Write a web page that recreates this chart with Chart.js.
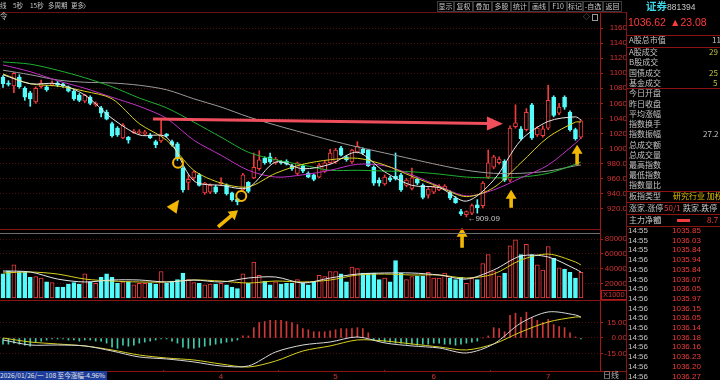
<!DOCTYPE html>
<html lang="zh">
<head>
<meta charset="utf-8">
<title>证券 881394 日线</title>
<script src="https://cdn.jsdelivr.net/npm/chart.js@4.4.1/dist/chart.umd.min.js"></script>
<style>
  body { margin: 0; width: 720px; height: 380px; background: #000; overflow: hidden; position: relative;
         font-family: "Noto Sans CJK SC", "Liberation Sans", sans-serif; color: #c4c4c4; }
  .t { position: absolute; white-space: nowrap; font-size: 8px; line-height: 10px; }
  .h { position: absolute; height: 1px; background: #8a1414; }
  .v { position: absolute; width: 1px; background: #8a1414; }
  .btn { position: absolute; top: 1px; height: 9px; border: 1px solid #3c3c3c; font-size: 7px; line-height: 9px;
         text-align: center; color: #c8c8c8; box-sizing: content-box; }
  canvas { position: absolute; left: 0; }
</style>
</head>
<body>
<canvas id="vol" width="627" height="70" style="top:230px"></canvas>
<canvas id="macd" width="627" height="79" style="top:301px"></canvas>
<canvas id="price" width="627" height="237" style="top:13px"></canvas>
<div id="deco"></div>
<script>
// ---- daily candles ----
const opens  = [1095,1087,1083,1095,1080,1074,1062,1082,1082,1084, 1087,1086,1082,1076,1071,1063,1068,1058,1054,1048,
                1033,1027,1014,1015,1021,1021,1019,1018,1009,1010, 1019,1009,1006,974,955,961,965,941,942,949,
                953,951,941,933,945,955,961,973,987,989, 981,982,983,977,967,977,967,965,962,970,
                981,982,1001,989,982,995,999,998,975,958, 953,961,963,965,951,947,959,951,938,942,
                945,946,942,934,916,912,914,925,924,962, 975,981,983,958,1029,1026,1025,1058,1018,1017,
                1027,1068,1047,1068,1048,1025,1015];
const highs  = [1097,1090,1101,1098,1082,1076,1082,1091,1084,1090, 1089,1087,1083,1078,1073,1072,1070,1062,1056,1051,
                1035,1029,1033,1016,1025,1025,1024,1020,1011,1038, 1020,1011,1008,976,965,970,967,955,953,951,
                961,953,942,934,967,956,994,997,989,994, 988,984,985,979,982,979,969,966,980,983,
                999,1000,1003,991,999,1009,1001,999,977,961, 965,963,994,967,960,974,961,953,948,951,
                952,952,944,936,919,917,926,932,956,998, 991,989,985,1030,1058,1029,1053,1060,1029,1030,
                1084,1070,1060,1070,1050,1027,1038];
const lows   = [1081,1083,1074,1080,1064,1056,1060,1080,1076,1083, 1082,1081,1075,1064,1062,1061,1058,1056,1042,1038,
                1015,1016,1013,1007,1020,1019,1018,1013,1001,1008, 1015,1003,984,942,945,958,950,939,940,940,
                951,938,930,925,943,941,960,971,979,980, 979,979,978,971,965,968,961,957,961,968,
                980,980,990,983,980,994,992,976,951,950, 951,956,958,943,949,945,952,933,934,940,
                944,945,932,927,911,909.09,912,914,921,960, 973,979,956,956,1027,1011,1023,1012,1016,1015,
                1025,1042,1045,1052,1023,1011,1013];
const closes = [1086,1085,1100,1082,1068,1066,1080,1087,1078,1087, 1084,1083,1076,1066,1064,1071,1060,1060,1047,1039,
                1017,1018,1031,1011,1023,1022,1022,1014,1005,1018, 1017,1005,986,945,959,969,951,954,951,942,
                955,940,932,929,965,943,975,985,981,982, 986,981,979,973,981,970,962,959,978,981,
                994,998,991,985,998,1003,994,977,954,954, 962,958,960,945,958,961,954,935,946,949,
                950,950,934,928,913,916,924,921,954,981, 989,986,958,1027,1034,1013,1048,1014,1027,1026,
                1064,1044,1055,1055,1025,1013,1036.62];
const volumes = [33000,37000,45000,36000,36000,28000,29000,27000,22000,21000, 15000,15000,19000,21000,19000,33000,22000,20000,28000,33000,
                 28000,20000,22000,22000,18000,20000,20000,20000,19000,36000, 20000,23000,25000,34000,25000,21000,20000,18000,19000,19000,
                 20000,18000,15000,13000,33000,20000,49000,31000,23000,18000, 22000,19000,20000,20000,25000,21000,18000,22000,31000,29000,
                 36000,36000,33000,22000,42000,40000,34000,34000,34000,25000, 27000,22000,51000,34000,25000,29000,30000,30000,35000,27000,
                 27000,34000,27000,25000,28000,20000,27000,25000,47000,59000, 36000,30000,34000,71000,79000,59000,73000,59000,45000,38000,
                 70000,54000,41000,39000,35000,27000,35000];
const macdHist = [-6,-6,-5,-6,-7,-8,-4,-3,-2,-1, -1,-1,-2,-2,-3,-2,-2,-3,-3,-5,
                  -9,-10,-7,-8,-7,-5,-4,-3,-2,-1, -1,-3,-5,-9,-10,-10,-9,-8,-7,-6,
                  -5,-4,-3,-2,2,2,10,15,16,17, 17,17,16,15,13,9,8,6,6,6,
                  7,8,9,9,9,10,9,5,-2,-3, -4,-4,-5,-5,-6,-6,-7,-6,-6,-5,
                  -5,-6,-6,-7,-6,-5,-4,-3,0,2, 10,9,6,22,24,20,25,20,17,15,
                  18,13,11,10,5,1,-1];

// indicator lines, sampled every 5 bars
const lineIdx = [0,5,10,15,20,25,30,35,40,45,50,55,60,65,70,75,80,85,90,95,100,105,106];
const ma5  = [1098,1086,1086,1071,1040,1018,1015,957,951,948,982,973,979,995,969,951,948,930,958,1011,1036,1042,1038];
const ma10 = [1099,1086,1083,1076,1066,1033,1011,971,954,949,967,979,985,987,978,963,949,936,948,981,1015,1035,1035];
const ma20 = [1111,1102,1090,1080,1068,1056,1040,1011,991,971,962,965,971,979,977,965,950,937,945,961,978,1007,1014];
const ma30 = [1115,1112,1104,1094,1082,1067,1054,1035,1015,995,985,978,971,971,970,969,966,962,961,962,967,979,982];
const ma60 = [1104,1098,1091,1088,1087,1084,1078,1066,1055,1042,1031,1021,1011,1002,994,986,978,971,967,967,970,977,978];
const volMa5  = [36700,35400,25800,21800,24500,24500,21800,24500,21800,27200,28600,20400,27200,32600,34000,34000,31300,25800,38100,57100,55800,39400,35400];
const volMa10 = [34000,35400,32600,25800,23100,21800,21800,24500,23100,20400,23100,21800,24500,31300,32600,31300,31300,27200,32600,51700,59800,49000,44900];
const dif = [-1.9,-6.8,-6.8,-7.7,-12.6,-18.4,-20.3,-23.2,-27.1,-27.1,-13.6,-6.8,-3.9,1,-4.8,-7.7,-9.7,-14.5,-5.8,14.5,25.2,22.3,20.3];
const dea = [0,-3.9,-5.8,-7.7,-11.6,-16.5,-19.4,-21.3,-25.2,-28.1,-22.3,-12.6,-7.7,-1.9,-2.9,-5.8,-8.7,-11.6,-5.8,5.8,15.5,20.3,20.3];

// axes
const priceTicks = [920,940,960,980,1000,1020,1040,1060,1080,1100,1120,1140,1160];
const volTicks = [20000,40000,60000,80000];
const macdTicks = [-15,0,15];
const monthIdx = [40,61,79,100];
const monthLabels = ['4','5','6','7'];

// tick-by-tick list on the right
const tickTimes  = ['14:55','14:55','14:55','14:56','14:56','14:56','14:56','14:56','14:56','14:56','14:56','14:56','14:56','14:56','14:56','14:56'];
const tickPrices = ['1035.85','1036.03','1035.84','1035.94','1035.84','1036.07','1036.05','1035.97','1036.15','1036.05','1036.14','1036.18','1036.16','1036.23','1036.20','1036.27'];

const RED = '#f03c3c', CYAN = '#54fcfc', YEL = '#f2b705';
const up = closes.map((c, i) => c >= opens[i]);

Chart.defaults.font.family = 'Liberation Sans';
Chart.defaults.font.size = 8;

function xAxis(show) {
  const axis = {
    type: 'linear', min: -0.55, max: 109.5, offset: false, display: show,
    afterBuildTicks: s => { s.ticks = monthIdx.map(v => ({ value: v })); },
    ticks: { color: '#d23232', autoSkip: false, maxRotation: 0, padding: 0,
             callback: v => monthLabels[monthIdx.indexOf(v)] },
    grid: { drawOnChartArea: false, tickLength: 2, color: '#a01818' },
    border: { display: false }
  };
  // only the bottom panel shows dates; hidden axes must take no room
  if (show) axis.afterFit = s => { s.height = 10; s.paddingLeft = 0; s.paddingRight = 0; };
  return axis;
}

function yAxis(min, max, values, fmt) {
  return {
    position: 'right', min: min, max: max,
    afterBuildTicks: s => { s.ticks = values.map(v => ({ value: v })); },
    afterFit: s => { s.width = 27; s.paddingTop = 0; s.paddingBottom = 0; },
    ticks: { color: '#d23232', padding: 1, crossAlign: 'far', autoSkip: false, callback: fmt },
    grid: { color: '#4c1010', tickLength: 3, tickColor: '#b01c1c' },
    border: { color: '#a01818', dash: [1, 2] }
  };
}

function line(idx, vals, color) {
  return { type: 'line', data: idx.map((x, k) => ({ x: x, y: vals[k] })), borderColor: color,
           borderWidth: 1, pointRadius: 0, tension: 0.3, order: 0 };
}

const common = { responsive: false, animation: false, events: [],
                 plugins: { legend: { display: false }, tooltip: { enabled: false } } };

// hand-drawn marks on the price panel, in (bar index, price) coordinates
const marks = {
  redArrow: { from: [27.5, 1039], to: [91.7, 1033] },
  circles: [[32.1, 981], [43.7, 937]],
  heads: [{ at: [32.3, 932], ang: -55 }],
  arrows: [{ at: [43.1, 918], ang: -40, len: 26 }, { at: [93.2, 945], ang: -90, len: 18 },
           { at: [105.3, 1005], ang: -90, len: 20 }, { at: [84.2, 894.5], ang: -90, len: 20 }],
  low: { at: [85, 909.09], text: '\u2190909.09' }
};

function poly(ctx, x, y, ang, pts) {
  const c = Math.cos(ang), s = Math.sin(ang);
  ctx.beginPath();
  pts.forEach((p, k) => {
    const px = x + p[0] * c - p[1] * s, py = y + p[0] * s + p[1] * c;
    if (k === 0) ctx.moveTo(px, py); else ctx.lineTo(px, py);
  });
  ctx.closePath();
  ctx.fill();
}

const marksPlugin = {
  id: 'marks',
  afterDatasetsDraw(chart) {
    const ctx = chart.ctx, sx = chart.scales.x, sy = chart.scales.y;
    const px = p => [sx.getPixelForValue(p[0]), sy.getPixelForValue(p[1])];
    ctx.save();

    // long red arrow
    const [x1, y1] = px(marks.redArrow.from), [x2, y2] = px(marks.redArrow.to);
    const a = Math.atan2(y2 - y1, x2 - x1);
    ctx.strokeStyle = ctx.fillStyle = '#ef4f5c';
    ctx.lineWidth = 3;
    ctx.beginPath();
    ctx.moveTo(x1, y1);
    ctx.lineTo(x2 - 14 * Math.cos(a), y2 - 14 * Math.sin(a));
    ctx.stroke();
    poly(ctx, x2, y2, a, [[0, 0], [-16, -7], [-16, 7]]);

    // yellow circles and arrows
    ctx.strokeStyle = ctx.fillStyle = YEL;
    ctx.lineWidth = 2;
    marks.circles.forEach(p => {
      const [cx, cy] = px(p);
      ctx.beginPath(); ctx.arc(cx, cy, 5, 0, Math.PI * 2); ctx.stroke();
    });
    marks.heads.forEach(h => {
      const [hx, hy] = px(h.at);
      poly(ctx, hx, hy, h.ang * Math.PI / 180, [[0, 0], [-13, -6], [-13, 6]]);
    });
    marks.arrows.forEach(r => {
      const [ax, ay] = px(r.at), L = r.len;
      poly(ctx, ax, ay, r.ang * Math.PI / 180,
           [[0, 0], [-9, -5.5], [-9, -1.8], [-L, -1.8], [-L, 1.8], [-9, 1.8], [-9, 5.5]]);
    });

    // low price label
    const [lx, ly] = px(marks.low.at);
    ctx.fillStyle = '#c8c8c8';
    ctx.font = '8px Liberation Sans';
    ctx.textBaseline = 'middle';
    ctx.fillText(marks.low.text, lx + 1, ly + 1.5);
    ctx.restore();
  }
};

const xs = opens.map((_, i) => i);

// price panel
new Chart(document.getElementById('price'), {
  type: 'bar',
  data: { datasets: [
    line(lineIdx, ma5, '#e6e6e6'),
    line(lineIdx, ma10, '#d8d020'),
    line(lineIdx, ma20, '#c030c8'),
    line(lineIdx, ma30, '#20b030'),
    line(lineIdx, ma60, '#9a9a9a'),
    { data: xs.map(i => ({ x: i, y: [opens[i], closes[i]] })), order: 1, grouped: false,
      barThickness: 4, minBarLength: 1, borderWidth: 1, borderSkipped: false,
      backgroundColor: up.map(u => u ? '#000' : CYAN), borderColor: up.map(u => u ? RED : CYAN) },
    { data: xs.map(i => ({ x: i, y: [lows[i], highs[i]] })), order: 2, grouped: false,
      barThickness: 1, backgroundColor: up.map(u => u ? RED : CYAN) }
  ] },
  options: Object.assign({}, common, {
    layout: { padding: { bottom: 21 } },
    scales: { x: xAxis(false), y: yAxis(893, 1180, priceTicks, v => v >= 1000 ? String(v) : v.toFixed(1)) }
  }),
  plugins: [marksPlugin]
});

// volume panel
new Chart(document.getElementById('vol'), {
  type: 'bar',
  data: { datasets: [
    line(lineIdx, volMa5, '#e6e6e6'),
    line(lineIdx, volMa10, '#d8d020'),
    { data: xs.map(i => ({ x: i, y: volumes[i] })), order: 1, grouped: false,
      barThickness: 4, borderWidth: 1, borderSkipped: false,
      backgroundColor: up.map(u => u ? '#000' : CYAN), borderColor: up.map(u => u ? RED : CYAN) }
  ] },
  options: Object.assign({}, common, {
    scales: { x: xAxis(false), y: yAxis(-2700, 92500, volTicks, v => String(v)) }
  })
});

// MACD panel
new Chart(document.getElementById('macd'), {
  type: 'bar',
  data: { datasets: [
    line(lineIdx, dif, '#d8d8d8'),
    line(lineIdx, dea, '#d8d020'),
    { data: xs.map(i => ({ x: i, y: macdHist[i] })), order: 1, grouped: false, barThickness: 1,
      backgroundColor: macdHist.map(v => v >= 0 ? '#d03838' : '#40c8a8') }
  ] },
  options: Object.assign({}, common, {
    scales: { x: xAxis(true), y: yAxis(-31, 35.8, macdTicks, v => v.toFixed(2)) }
  })
});

// ---- frame, header and side panel ----
const deco = document.getElementById('deco');
function put(html, x, y, style) {
  const d = document.createElement('div');
  d.className = 't';
  d.innerHTML = html;
  d.style.left = x + 'px';
  d.style.top = y + 'px';
  if (style) d.style.cssText += style;
  deco.appendChild(d);
  return d;
}
function hline(y, x0, x1, color) {
  const d = document.createElement('div');
  d.className = 'h';
  d.style.cssText = `left:${x0}px;top:${y}px;width:${x1 - x0}px;` + (color ? `background:${color}` : '');
  deco.appendChild(d);
}
function vline(x, y0, y1) {
  const d = document.createElement('div');
  d.className = 'v';
  d.style.cssText = `left:${x}px;top:${y0}px;height:${y1 - y0}px`;
  deco.appendChild(d);
}

hline(12, 0, 627, '#6a1010');
hline(229, 0, 600);
hline(233, 0, 600, '#6c6c6c');
hline(300, 0, 627);
hline(371, 0, 627);
vline(626, 12, 380);

// header left
[['线', 0], ['5秒', 13], ['15秒', 30], ['多周期', 48], ['更多', 71], ['〉', 83]].forEach(b =>
  put(b[0], b[1], 0, 'font-size:6.5px'));
put('令', 0, 11, 'font-size:7.5px');
put('◇', 583, 11, 'font-size:7px;color:#9a9a9a');
put('', 592, 14, 'width:4px;height:5px;border:1px solid #9a9a9a');

// header buttons
const buttons = [['显示', 437, 454], ['复权', 454, 473], ['叠加', 473, 492], ['多股', 492, 511], ['统计', 511, 529],
                 ['画线', 529, 549], ['F10', 549, 567], ['标记', 567, 583], ['-自选', 583, 603], ['返回', 603, 622]];
buttons.forEach(b => {
  const d = document.createElement('div');
  d.className = 'btn';
  d.textContent = b[0];
  d.style.left = b[1] + 'px';
  d.style.width = (b[2] - b[1] - 2) + 'px';
  deco.appendChild(d);
});

// side panel
put('证券', 646, 1, 'font-size:10.5px;font-weight:bold;color:#3cd8e8');
put('881394', 667, 2, 'font-size:8.5px;color:#c8c8c8;font-family:Liberation Sans');
put('1036.62', 628, 17, 'font-size:10.5px;color:#ff3c3c;font-family:Liberation Sans');
put('▲23.08', 670, 17, 'font-size:10.5px;color:#ff3c3c;font-family:Liberation Sans');

const panelRows = [['A股总市值', 40], ['A股成交', 52], ['B股成交', 62], ['国债成交', 73], ['基金成交', 83],
                   ['今日开盘', 93], ['昨日收盘', 104], ['平均涨幅', 114], ['指数换手', 124], ['指数振幅', 134],
                   ['总成交额', 145], ['总成交量', 155], ['最高指数', 165], ['最低指数', 175], ['指数量比', 185],
                   ['板指类型', 196], ['涨家.涨停', 208], ['主力净额', 220]];
panelRows.forEach(r => put(r[0], 629, r[1] - 5));

const panelVals = [['11', 712, 40, '#c4c4c4'], ['29', 709, 52, '#c0c040'], ['25', 709, 73, '#c0c040'],
                   ['5', 713, 83, '#c0c040'], ['27.2', 703, 134, '#c4c4c4'], ['研究行业 加权', 673, 196, '#e0c000'],
                   ['50/1', 664, 208, '#f03c3c'], ['跌家.跌停', 683, 208, '#c4c4c4'], ['8.7', 707, 220, '#f03c3c']];
panelVals.forEach(v => put(v[0], v[1], v[2] - 5, 'color:' + v[3]));
put('', 656, 217, 'width:3px;height:5px;border:1px solid #888');
put('', 677, 219, 'width:13px;height:3px;background:#f03c3c');

[35, 47, 88, 191, 202, 214, 226].forEach(y => hline(y, 627, 720));

tickTimes.forEach((t, k) => {
  const y = 226 + k * 9.7;
  put(t, 628, y, 'font-family:Liberation Sans');
  put(tickPrices[k], 672, y, 'font-family:Liberation Sans;color:#f03c3c');
});

// volume unit box and bottom bar
put('X1000', 601, 290, 'font-size:7.5px;line-height:8px;color:#d23232;border:1px solid #b01c1c;padding:0 1px;font-family:Liberation Sans');
put('2026/01/26/一 108 至今涨幅-4.96%', 0, 371, 'width:107px;height:9px;line-height:9px;font-size:6.6px;background:#1c3c9c;color:#e4e4e4;overflow:hidden');
put('日线', 603, 370, 'color:#b4b4b4');
</script>
</body>
</html>
